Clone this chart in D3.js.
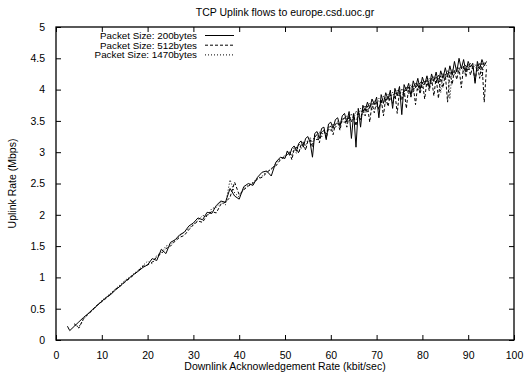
<!DOCTYPE html>
<html>
<head>
<meta charset="utf-8">
<script src="https://cdn.jsdelivr.net/npm/d3@7"></script>
<style>
  body { margin: 0; background: #fff; }
  text { font-family: "Liberation Sans", Arial, sans-serif; font-size: 10.5px; fill: #000; }
</style>
</head>
<body>
<script>
// downlink ack rate (kbit/sec)
const ackRate = [
  2.5, 3, 4, 5, 6, 7, 8, 9, 10, 11, 12, 13, 14, 15, 16, 17, 18, 19, 20,
  21, 22, 23, 24, 25, 26, 27, 28, 29, 30, 31, 32, 33, 34, 35, 36, 37, 38, 39, 40,
  41, 42, 43, 44, 45, 46, 47, 48, 49, 50,
  50.5, 51, 51.5, 52, 52.5, 53, 53.5, 54, 54.5, 55,
  55.5, 56, 56.5, 57, 57.5, 58, 58.5, 59, 59.5, 60,
  60.5, 61, 61.5, 62, 62.5, 63, 63.5, 64, 64.5, 65,
  65.5, 66, 66.5, 67, 67.5, 68, 68.5, 69, 69.5, 70,
  70.5, 71, 71.5, 72, 72.5, 73, 73.5, 74, 74.5, 75,
  75.5, 76, 76.5, 77, 77.5, 78, 78.5, 79, 79.5, 80,
  80.5, 81, 81.5, 82, 82.5, 83, 83.5, 84, 84.5, 85,
  85.5, 86, 86.5, 87, 87.5, 88, 88.5, 89, 89.5, 90,
  90.5, 91, 91.5, 92, 92.5, 93, 93.5, 94
];

// uplink rate (Mbps), one list per packet size
const size200 = [
  0.22, 0.15, 0.22, 0.29, 0.36, 0.42, 0.49, 0.55, 0.62, 0.68, 0.73, 0.80, 0.86, 0.93, 0.99, 1.05, 1.10, 1.16, 1.20,
  1.30, 1.27, 1.45, 1.38, 1.56, 1.60, 1.68, 1.72, 1.82, 1.87, 1.95, 1.92, 2.04, 2.02, 2.15, 2.22, 2.20, 2.42, 2.30, 2.25,
  2.45, 2.50, 2.47, 2.60, 2.68, 2.70, 2.62, 2.84, 2.92, 2.90,
  3.02, 2.95, 3.06, 3.10, 3.02, 3.14, 3.18, 3.08, 3.22, 3.25,
  3.15, 2.92, 3.30, 3.33, 3.22, 3.38, 3.40, 3.20, 3.45, 3.48,
  3.38, 3.52, 3.55, 3.42, 3.58, 3.62, 3.48, 3.65, 3.22, 3.62,
  3.08, 3.70, 3.40, 3.75, 3.66, 3.80, 3.70, 3.85, 3.76, 3.88,
  3.55, 3.92, 3.78, 3.95, 3.84, 3.99, 3.70, 4.02, 3.90, 4.05,
  3.60, 4.08, 3.98, 4.10, 3.90, 4.14, 4.03, 4.18, 4.00, 4.20,
  4.08, 4.22, 4.03, 4.25, 4.13, 4.28, 4.10, 4.30, 4.18, 4.35,
  4.20, 4.38, 4.23, 4.45, 4.28, 4.50, 4.33, 4.48, 4.28, 4.45,
  4.36, 4.42, 4.10, 4.45, 4.33, 4.48, 4.38, 4.45
];

const size512 = [
  null, null, 0.26, 0.19, 0.34, 0.41, 0.48, 0.56, 0.61, 0.67, 0.74, 0.81, 0.86, 0.92, 0.98, 1.04, 1.11, 1.18, 1.20,
  1.24, 1.33, 1.38, 1.46, 1.50, 1.58, 1.64, 1.67, 1.76, 1.84, 1.90, 1.88, 2.00, 2.05, 2.03, 2.17, 2.20, 2.28, 2.52, 2.32,
  2.40, 2.46, 2.50, 2.57, 2.60, 2.67, 2.74, 2.78, 2.88, 2.93,
  2.96, 3.00, 2.88, 3.05, 3.08, 2.98, 3.12, 3.15, 3.03, 3.18,
  3.20, 3.08, 3.25, 3.28, 3.15, 3.32, 3.35, 3.22, 3.38, 3.42,
  3.28, 3.45, 3.48, 3.35, 3.52, 3.55, 3.40, 3.58, 3.48, 3.60,
  3.42, 3.65, 3.52, 3.70, 3.58, 3.74, 3.48, 3.78, 3.63, 3.82,
  3.68, 3.85, 3.58, 3.88, 3.73, 3.92, 3.78, 3.95, 3.62, 3.98,
  3.83, 4.00, 3.70, 4.04, 3.88, 4.06, 3.76, 4.10, 3.93, 4.12,
  3.85, 4.15, 3.98, 4.18, 3.90, 4.20, 3.86, 4.22, 4.03, 4.25,
  3.80, 4.28, 4.08, 4.32, 4.16, 4.35, 4.03, 4.38, 4.20, 4.40,
  4.23, 4.38, 4.12, 4.40, 4.18, 4.42, 3.80, 4.35
];

const size1470 = [
  null, null, 0.24, 0.21, 0.33, 0.42, 0.47, 0.56, 0.63, 0.69, 0.75, 0.82, 0.88, 0.95, 1.00, 1.06, 1.12, 1.19, 1.26,
  1.22, 1.35, 1.40, 1.50, 1.53, 1.60, 1.66, 1.73, 1.78, 1.85, 1.91, 1.99, 1.97, 2.10, 2.12, 2.20, 2.16, 2.56, 2.35, 2.28,
  2.42, 2.47, 2.52, 2.58, 2.62, 2.69, 2.72, 2.82, 2.90, 2.95,
  2.98, 3.02, 2.94, 3.07, 2.98, 3.14, 3.05, 3.18, 3.10, 3.20,
  3.24, 3.13, 3.28, 3.18, 3.33, 3.24, 3.37, 3.28, 3.42, 3.33,
  3.46, 3.38, 3.50, 3.40, 3.55, 3.46, 3.58, 3.50, 3.62, 3.52,
  3.66, 3.56, 3.70, 3.60, 3.75, 3.64, 3.78, 3.68, 3.82, 3.73,
  3.86, 3.76, 3.90, 3.78, 3.93, 3.83, 3.96, 3.86, 3.99, 3.88,
  4.02, 3.90, 4.05, 3.93, 4.08, 3.96, 4.10, 3.98, 4.13, 4.03,
  4.15, 4.06, 4.18, 4.08, 4.21, 4.10, 4.24, 3.95, 4.27, 4.16,
  4.30, 3.85, 4.32, 4.23, 4.35, 4.26, 4.38, 4.28, 4.40, 4.30,
  4.42, 4.33, 4.40, 4.28, 4.43, 4.20, 4.44, 4.38
];

const seriesNames = ["Packet Size: 200bytes", "Packet Size: 512bytes", "Packet Size: 1470bytes"];
const seriesDash = [null, "3,2", "1,2"];
const xTicks = [0, 10, 20, 30, 40, 50, 60, 70, 80, 90, 100];
const yTicks = [0, 0.5, 1, 1.5, 2, 2.5, 3, 3.5, 4, 4.5, 5];

const width = 531, height = 375;
const margin = { top: 27, right: 17, bottom: 35, left: 56 };

const svg = d3.select("body").append("svg")
  .attr("width", width)
  .attr("height", height);

const x = d3.scaleLinear().domain([0, 100]).range([margin.left, width - margin.right]);
const y = d3.scaleLinear().domain([0, 5]).range([height - margin.bottom, margin.top]);

// axes, gnuplot style: ticks pointing inwards, mirrored
const tickLen = 5;
svg.append("g")
  .attr("transform", `translate(0,${y(0)})`)
  .call(d3.axisBottom(x).tickValues(xTicks).tickSizeInner(-tickLen).tickSizeOuter(0).tickPadding(7 + tickLen).tickFormat(d3.format("d")))
  .call(g => g.select(".domain").remove());
svg.append("g")
  .attr("transform", `translate(0,${y(5)})`)
  .call(d3.axisTop(x).tickValues(xTicks).tickSizeInner(-tickLen).tickSizeOuter(0).tickFormat(""))
  .call(g => g.select(".domain").remove());
svg.append("g")
  .attr("transform", `translate(${x(0)},0)`)
  .call(d3.axisLeft(y).tickValues(yTicks).tickSizeInner(-tickLen).tickSizeOuter(0).tickPadding(6 + tickLen).tickFormat(d3.format("")))
  .call(g => g.select(".domain").remove());
svg.append("g")
  .attr("transform", `translate(${x(100)},0)`)
  .call(d3.axisRight(y).tickValues(yTicks).tickSizeInner(-tickLen).tickSizeOuter(0).tickFormat(""))
  .call(g => g.select(".domain").remove());

svg.selectAll(".tick text").style("font-family", "'Liberation Sans', Arial, sans-serif").style("font-size", "10.5px").attr("fill", "#000");
svg.selectAll(".tick line").attr("stroke", "#000");

// plot frame
svg.append("rect")
  .attr("x", x(0)).attr("y", y(5))
  .attr("width", x(100) - x(0)).attr("height", y(0) - y(5))
  .attr("fill", "none").attr("stroke", "#000").attr("stroke-width", 1.3);

// series
const allSeries = [size200, size512, size1470];
const line = d3.line()
  .defined(d => d[1] != null)
  .x(d => x(d[0]))
  .y(d => y(d[1]));

allSeries.forEach((vals, i) => {
  const pts = ackRate.map((r, j) => [r, vals[j]]);
  svg.append("path")
    .datum(pts)
    .attr("d", line)
    .attr("fill", "none")
    .attr("stroke", "#000")
    .attr("stroke-width", 1)
    .attr("stroke-dasharray", seriesDash[i]);
});

// legend
const legend = svg.append("g");
seriesNames.forEach((name, i) => {
  const ly = 35.5 + i * 9.7;
  legend.append("text")
    .attr("x", 197).attr("y", ly + 3.3)
    .attr("text-anchor", "end")
    .style("font-size", "9.8px")
    .text(name);
  legend.append("line")
    .attr("x1", 205).attr("x2", 234)
    .attr("y1", ly).attr("y2", ly)
    .attr("stroke", "#000")
    .attr("stroke-dasharray", seriesDash[i]);
});

// titles
svg.append("text")
  .attr("x", (x(0) + x(100)) / 2).attr("y", 16)
  .attr("text-anchor", "middle")
  .text("TCP Uplink flows to europe.csd.uoc.gr");

svg.append("text")
  .attr("x", (x(0) + x(100)) / 2).attr("y", 370)
  .attr("text-anchor", "middle")
  .text("Downlink Acknowledgement Rate (kbit/sec)");

svg.append("text")
  .attr("transform", `translate(16,${(y(0) + y(5)) / 2}) rotate(-90)`)
  .attr("text-anchor", "middle")
  .text("Uplink Rate (Mbps)");
</script>
</body>
</html>
